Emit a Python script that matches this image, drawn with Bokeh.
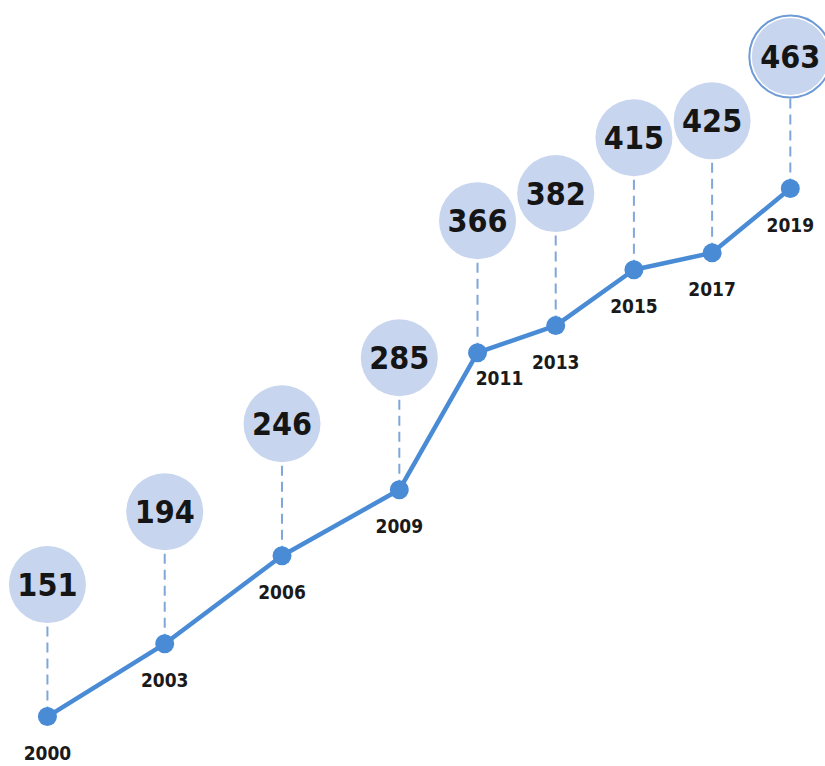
from bokeh.plotting import figure
from bokeh.models import ColumnDataSource, Range1d
from bokeh.core.properties import value
from bokeh.embed import file_html
from bokeh.resources import INLINE

years = [2000, 2003, 2006, 2009, 2011, 2013, 2015, 2017, 2019]
values = [151, 194, 246, 285, 366, 382, 415, 425, 463]
year_labels = [str(y) for y in years]
value_labels = [str(v) for v in values]

BUBBLE_OFFSET = 78  # data units above each point
FONT = "DejaVu Sans Condensed"

bubble_y = [v + BUBBLE_OFFSET for v in values]
label_dx = [22 if y == 2011 else 0 for y in years]
label_dy = [25 if y == 2011 else 36 for y in years]

src = ColumnDataSource(dict(x=years, y=values, by=bubble_y, yl=year_labels,
                            vl=value_labels, dx=label_dx, dy=label_dy))

p = figure(width=825, height=766, output_backend="svg", toolbar_location=None,
           x_range=Range1d(1998.8, 2019.9), y_range=Range1d(121.5, 574.1),
           min_border=0, outline_line_color=None)
p.axis.visible = False
p.grid.visible = False
p.background_fill_color = "white"
p.border_fill_color = "white"

# dashed connectors
p.segment(x0="x", y0="y", x1="x", y1="by", source=src,
          line_color="#80a6da", line_width=2, line_dash="10 6")

# main line and points
p.line(x="x", y="y", source=src, line_color="#4a8bd6", line_width=4.5)
p.scatter(x="x", y="y", source=src, size=19, fill_color="#4a8bd6", line_color=None)

# bubbles
p.scatter(x="x", y="by", source=src, size=77, fill_color="#c7d5ee", line_color=None)
last = ColumnDataSource(dict(x=years[-1:], by=bubble_y[-1:]))
p.scatter(x="x", y="by", source=last, size=82, fill_color=None,
          line_color="#6e9ad6", line_width=2)

# value labels
p.text(x="x", y="by", text="vl", source=src, text_align="center",
       text_baseline="middle", text_font=value(FONT), text_font_style="bold",
       text_font_size="32px", text_color="#151515")

# year labels
p.text(x="x", y="y", text="yl", source=src, x_offset="dx", y_offset="dy",
       text_align="center", text_baseline="middle", text_font=value(FONT),
       text_font_style="bold", text_font_size="19px", text_color="#1a1a1a")

open("out.html", "w").write(file_html(p, INLINE))
